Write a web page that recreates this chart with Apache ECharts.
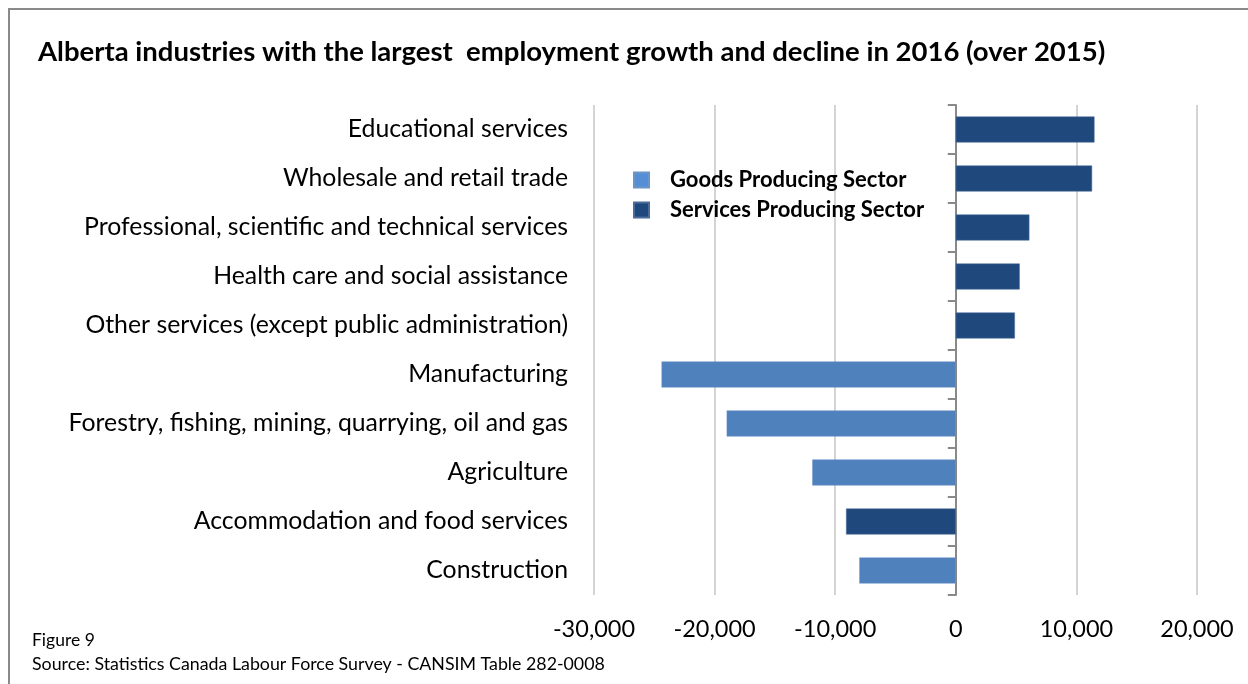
<!DOCTYPE html>
<html>
<head>
<meta charset="utf-8">
<script src="https://cdn.jsdelivr.net/npm/echarts@6/dist/echarts.min.js"></script>
<style>
  html, body { margin: 0; padding: 0; background: #fff; }
  #chart { width: 1248px; height: 684px; }
</style>
</head>
<body>
<div id="chart"></div>
<script>
// Industries, listed top to bottom
const industries = [
  'Educational services',
  'Wholesale and retail trade',
  'Professional, scientific and technical services',
  'Health care and social assistance',
  'Other services (except public administration)',
  'Manufacturing',
  'Forestry, fishing, mining, quarrying, oil and gas',
  'Agriculture',
  'Accommodation and food services',
  'Construction'
];

// Employment change 2016 vs 2015, split by sector ('-' = not in that sector)
const goodsSector = ['-', '-', '-', '-', '-', -24400, -19000, -11900, '-', -8000];
const servicesSector = [11500, 11300, 6100, 5300, 4900, '-', '-', '-', -9100, '-'];

const seriesNames = ['Goods Producing Sector', 'Services Producing Sector'];
const xTicks = { min: -30000, max: 20000, interval: 10000 };

const FONT = 'Lato, "Open Sans", sans-serif';
const GOODS = '#4f81bd';
const SERVICES = '#1f497d';

const chart = echarts.init(document.getElementById('chart'), null, { renderer: 'canvas' });

chart.setOption({
  backgroundColor: '#ffffff',
  animation: false,
  textStyle: { fontFamily: FONT },
  title: {
    text: 'Alberta industries with the largest  employment growth and decline in 2016 (over 2015)',
    left: 33,
    top: 33,
    textStyle: { fontFamily: FONT, fontSize: 27.5, fontWeight: 'bold', color: '#000' }
  },
  legend: {
    orient: 'vertical',
    left: 628,
    top: 164,
    itemWidth: 15,
    itemHeight: 15,
    itemGap: 8,
    icon: 'rect',
    textStyle: {
      fontFamily: FONT, fontSize: 22, fontWeight: 'bold', color: '#000',
      padding: [0, 0, 0, 16]
    },
    data: [
      { name: seriesNames[0], itemStyle: { color: '#558ed5' } },
      { name: seriesNames[1], itemStyle: { color: SERVICES } }
    ]
  },
  grid: { left: 594, width: 603, top: 105, height: 490, containLabel: false },
  xAxis: {
    type: 'value',
    min: xTicks.min,
    max: xTicks.max,
    interval: xTicks.interval,
    axisLine: { show: false },
    axisTick: { show: false },
    axisLabel: {
      fontFamily: FONT,
      fontSize: 23.5,
      color: '#000',
      margin: 22,
      formatter: v => v.toLocaleString('en-US')
    },
    splitLine: { show: true, lineStyle: { color: '#d4d4d4', width: 2 } }
  },
  yAxis: [
    {
      // category labels on the left edge of the plot
      type: 'category',
      data: industries,
      inverse: true,
      position: 'left',
      axisLine: { show: false, onZero: false },
      axisTick: { show: false },
      axisLabel: { fontFamily: FONT, fontSize: 24.8, color: '#000', margin: 26, padding: [2, 0, 0, 0] },
      splitLine: { show: false }
    },
    {
      // axis line with tick marks at zero
      type: 'category',
      data: industries,
      inverse: true,
      position: 'left',
      axisLine: { show: true, onZero: true, lineStyle: { color: '#898989', width: 2 } },
      axisTick: { show: true, length: 8, lineStyle: { color: '#898989', width: 2 } },
      axisLabel: { show: false },
      splitLine: { show: false }
    }
  ],
  series: [
    {
      name: seriesNames[0],
      type: 'bar',
      yAxisIndex: 0,
      data: goodsSector,
      barWidth: 26,
      barGap: '-100%',
      itemStyle: { color: GOODS, borderColor: '#6a95c8', borderWidth: 0.5 },
      z: 3
    },
    {
      name: seriesNames[1],
      type: 'bar',
      yAxisIndex: 0,
      data: servicesSector,
      barWidth: 26,
      barGap: '-100%',
      itemStyle: { color: SERVICES, borderColor: '#4a6d9a', borderWidth: 0.5 },
      z: 3
    }
  ],
  graphic: [
    {
      type: 'rect',
      shape: { x: 9, y: 9, width: 1300, height: 720 },
      style: { fill: 'none', stroke: '#8a8a8a', lineWidth: 2 },
      silent: true
    },
    {
      type: 'text',
      left: 32,
      top: 631,
      style: { text: 'Figure 9', font: '17.5px ' + FONT, fill: '#000' }
    },
    {
      type: 'text',
      left: 32,
      top: 655,
      style: { text: 'Source: Statistics Canada Labour Force Survey - CANSIM Table 282-0008', font: '17.8px ' + FONT, fill: '#000' }
    }
  ]
});
</script>
</body>
</html>
